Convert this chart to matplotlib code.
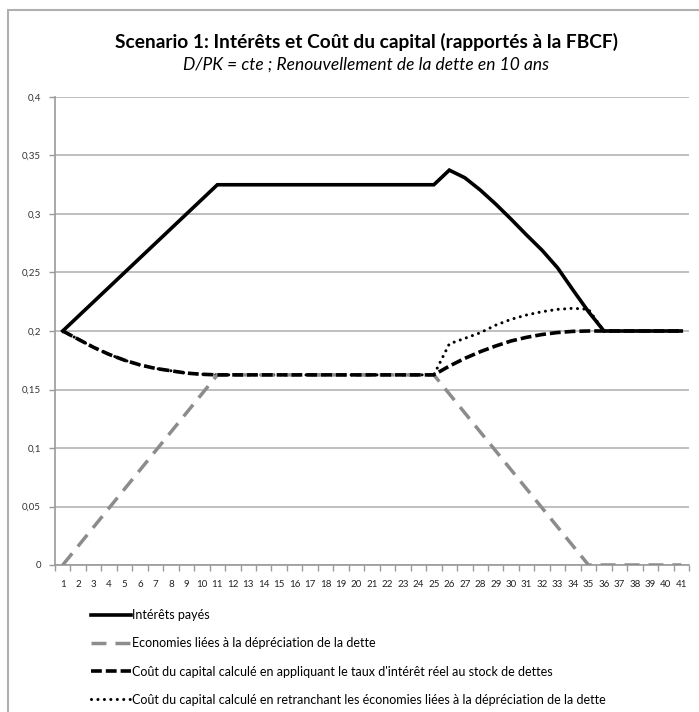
import matplotlib
matplotlib.use("Agg")
import matplotlib.pyplot as plt
import numpy as np
from matplotlib.patches import Rectangle

plt.rcParams['font.family'] = ['Lato', 'DejaVu Sans']

# ---- data ----
years = list(range(1, 42))

interets = [0.2, 0.2125, 0.225, 0.2375, 0.25, 0.2625, 0.275, 0.2875, 0.3, 0.3125,
            0.325, 0.325, 0.325, 0.325, 0.325, 0.325, 0.325, 0.325, 0.325, 0.325,
            0.325, 0.325, 0.325, 0.325, 0.325, 0.3375, 0.331, 0.3205, 0.3085, 0.2955,
            0.282, 0.269, 0.254, 0.235, 0.2165, 0.2, 0.2, 0.2, 0.2, 0.2, 0.2]

economies = [0.0, 0.01625, 0.0325, 0.04875, 0.065, 0.08125, 0.0975, 0.11375, 0.13, 0.14625,
             0.1625, 0.1625, 0.1625, 0.1625, 0.1625, 0.1625, 0.1625, 0.1625, 0.1625, 0.1625,
             0.1625, 0.1625, 0.1625, 0.1625, 0.1625, 0.14625, 0.13, 0.11375, 0.0975, 0.08125,
             0.065, 0.04875, 0.0325, 0.01625, 0.0, 0.0, 0.0, 0.0, 0.0, 0.0, 0.0]

cout_taux = [0.2, 0.193, 0.186, 0.18, 0.175, 0.171, 0.168, 0.166, 0.164, 0.163,
             0.1625, 0.1625, 0.1625, 0.1625, 0.1625, 0.1625, 0.1625, 0.1625, 0.1625, 0.1625,
             0.1625, 0.1625, 0.1625, 0.1625, 0.1625, 0.17, 0.1766, 0.1823, 0.1872, 0.1915,
             0.1946, 0.197, 0.1987, 0.1997, 0.2, 0.2, 0.2, 0.2, 0.2, 0.2, 0.2]

cout_econ = [0.2, 0.193, 0.186, 0.18, 0.175, 0.171, 0.168, 0.166, 0.164, 0.163,
             0.1625, 0.1625, 0.1625, 0.1625, 0.1625, 0.1625, 0.1625, 0.1625, 0.1625, 0.1625,
             0.1625, 0.1625, 0.1625, 0.1625, 0.1625, 0.189, 0.1937, 0.1985, 0.205, 0.21,
             0.2137, 0.2165, 0.2185, 0.2194, 0.2185, 0.2, 0.2, 0.2, 0.2, 0.2, 0.2]

labels = ["Intérêts payés",
          "Economies liées à la dépréciation de la dette",
          "Coût du capital calculé en appliquant le taux d'intérêt réel au stock de dettes",
          "Coût du capital calculé en retranchant les économies liées à la dépréciation de la dette"]

yticks = [0, 0.05, 0.1, 0.15, 0.2, 0.25, 0.3, 0.35, 0.4]
ytick_labels = ["0", "0,05", "0,1", "0,15", "0,2", "0,25", "0,3", "0,35", "0,4"]

# ---- figure ----
fig = plt.figure(figsize=(6.99, 7.12), dpi=100)
fig.patches.append(Rectangle((8 / 699, -0.01), 1.0, (712 - 10) / 712 + 0.01,
                             transform=fig.transFigure, fill=False,
                             edgecolor="#b0b0b0", lw=1.5))

ax = fig.add_axes([55 / 699, (712 - 565) / 712, (689 - 55) / 699, (565 - 97) / 712])

x = np.arange(len(years))
l1, = ax.plot(x, interets, color="black", lw=2.6, solid_joinstyle="miter", zorder=4)
l2, = ax.plot(x, economies, color="#8c8c8c", lw=2.5, dashes=(4.3, 2.6), zorder=3)
l3, = ax.plot(x, cout_taux, color="black", lw=2.6, dashes=(3, 1.1), zorder=5)
l4, = ax.plot(x, cout_econ, color="black", lw=2.2, dashes=(0.01, 2.1),
              dash_capstyle="round", zorder=2)

ax.set_xlim(-0.5, len(years) - 0.5)
ax.set_ylim(0, 0.4)
ax.set_yticks(yticks)
ax.set_yticklabels(ytick_labels)
ax.set_xticks(x)
ax.set_xticklabels([str(v) for v in years])
ax.set_xticks(np.arange(-0.5, len(years)), minor=True)
ax.tick_params(axis="x", which="major", length=0, labelsize=7, pad=11, colors="#222222")
ax.tick_params(axis="x", which="minor", length=4, width=1, color="#9a9a9a", direction="out")
ax.tick_params(axis="y", length=4, width=1, color="#9a9a9a", labelsize=7, pad=6,
               labelcolor="#333333")

ax.grid(axis="y", color="#b4b4b4", lw=1.2)
ax.set_axisbelow(True)
for s in ("top", "right"):
    ax.spines[s].set_visible(False)
for s in ("left", "bottom"):
    ax.spines[s].set_color("#9a9a9a")
    ax.spines[s].set_linewidth(1.2)

fig.text(0.524, 1 - 42 / 712, "Scenario 1: Intérêts et Coût du capital (rapportés à la FBCF)",
         ha="center", va="center", fontsize=13.8, fontweight="bold")
fig.text(0.524, 1 - 65 / 712, "D/PK = cte ; Renouvellement de la dette en 10 ans",
         ha="center", va="center", fontsize=12.5, style="italic")

fig.legend([l1, l2, l3, l4], labels, loc="upper left",
           bbox_to_anchor=(91 / 699, 1 - 609 / 712), frameon=False,
           fontsize=9, handlelength=3.2, handletextpad=0.1, labelspacing=1.3,
           borderpad=0, borderaxespad=0)

fig.savefig("out.png", dpi=100)
